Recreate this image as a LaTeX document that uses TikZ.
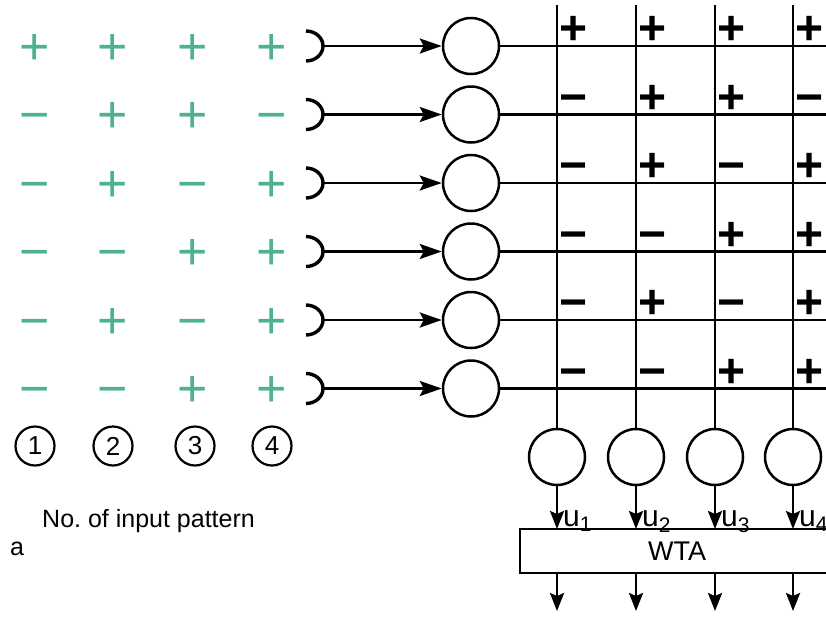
\documentclass[tikz,border=0pt]{standalone}
\usepackage{fontspec}
\setmainfont{Liberation Sans}
\usetikzlibrary{arrows.meta}
\definecolor{patgreen}{RGB}{78,178,140}
\frenchspacing
\tikzset{
  ln/.style={line width=2.6pt, black},
  arr/.style={ln, -{Stealth[length=22pt,width=15pt,inset=4pt]}},
  darr/.style={ln, -{Stealth[length=18pt,width=14pt,inset=3pt]}},
  neuron/.style={circle, draw, line width=2.5pt, minimum size=56pt, inner sep=0pt},
  numc/.style={circle, draw, line width=2.2pt, minimum size=39pt, inner sep=0pt, font=\fontsize{26}{26}\selectfont},
  gsign/.style={anchor=base, text=patgreen, inner sep=0pt, font=\fontsize{52}{52}\selectfont},
  bsign/.style={anchor=base, inner sep=0pt, font=\bfseries\fontsize{48}{48}\selectfont},
  lbl/.style={anchor=base west, inner sep=0pt},
}
\newcommand{\sgn}[1]{\if#1+{+}\else{\char"2212}\fi}
\begin{document}
\begin{tikzpicture}[x=1pt,y=-1pt]
\clip (0,0) rectangle (826,619);
\fill[white] (0,0) rectangle (826,619);
\def\rowys{46,114.5,183,251.5,320,388.5}
\def\colxs{557,636,715,793}
\foreach \y [count=\i] in \rowys {
  \draw[line width=3.4pt] (306,\y-15) arc[start angle=-90, end angle=90, x radius=17, y radius=15];
  \coordinate (r\i) at (323,\y);
  \node[neuron] (n\i) at (471,\y) {};
  \coordinate (e\i) at (830,\y);
  \draw[arr] (r\i) -- (n\i);
  \draw[ln] (n\i) -- (e\i);
}
\foreach \x [count=\j] in \colxs {
  \coordinate (t\j) at (\x,5);
  \node[neuron] (o\j) at (\x,457) {};
  \coordinate (w\j) at (\x,529);
  \coordinate (b\j) at (\x,611);
  \draw[ln] (t\j) -- (o\j);
  \draw[darr] (o\j) -- (w\j);
  \node[lbl, font=\fontsize{30}{30}\selectfont] (u\j) at (\x+6,526) {u\textsubscript{\j}};
}
\node[draw, line width=2.2pt, minimum width=314pt, minimum height=44pt, inner sep=0pt, font=\fontsize{27}{27}\selectfont] (wta) at (677,551) {WTA};
\foreach \x [count=\j] in \colxs {
  \coordinate (wb\j) at (\x,573);
  \draw[darr] (wb\j) -- (b\j);
}
\foreach \rowv [count=\i] in {{+,+,+,+},{-,+,+,-},{-,+,-,+},{-,-,+,+},{-,+,-,+},{-,-,+,+}} {
  \pgfmathsetmacro{\yy}{{46,114.5,183,251.5,320,388.5}[\i-1]}
  \foreach \s [count=\j] in \rowv {
    \pgfmathsetmacro{\px}{{35,113,193,272}[\j-1]}
    \pgfmathsetmacro{\gx}{{574,653,732,810}[\j-1]}
    \node[gsign] (p\i\j) at (\px,\yy+18) {\sgn{\s}};
    \node[bsign] (g\i\j) at (\gx,\yy-18+16.5) {\sgn{\s}};
  }
}
\foreach \x [count=\j] in {35,113,195,272} {
  \node[numc] (c\j) at (\x,446) {\j};
}
\node[lbl, font=\fontsize{25}{25}\selectfont] (cap) at (42,527) {No. of input pattern};
\node[lbl, font=\fontsize{25}{25}\selectfont] (alab) at (10,555) {a};
\end{tikzpicture}
\end{document}
